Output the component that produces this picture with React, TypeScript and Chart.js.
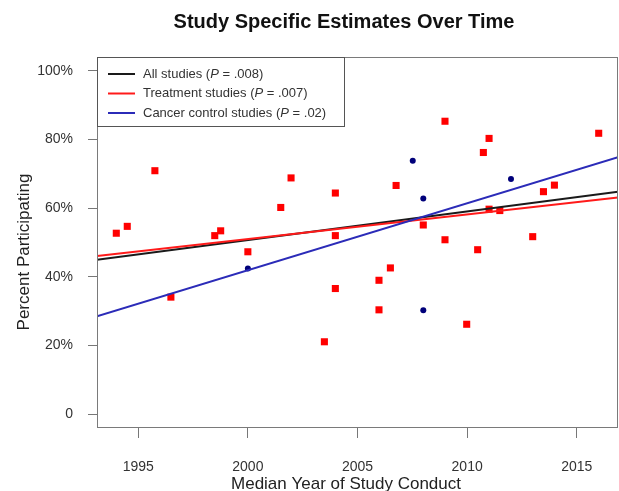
import React, { useEffect, useRef } from 'react';
import { Chart, registerables } from 'chart.js';

Chart.register(...registerables);

// ---- Data ----
const treatmentYears = [1994.0, 1994.5, 1995.76, 1996.49, 1998.49, 1998.76, 2000.0, 2001.5, 2001.97, 2003.49, 2003.99, 2003.99, 2003.99, 2005.98, 2005.98, 2006.5, 2006.76, 2008.0, 2008.99, 2008.99, 2009.98, 2010.48, 2010.74, 2011.0, 2011.0, 2011.49, 2012.99, 2013.48, 2013.98, 2016.0];
const treatmentPct = [52.7, 54.7, 70.9, 34.1, 52.0, 53.4, 47.3, 60.2, 68.8, 21.1, 64.4, 52.0, 36.6, 39.0, 30.4, 42.6, 66.6, 55.1, 85.3, 50.8, 26.2, 47.9, 76.2, 80.3, 59.7, 59.3, 51.7, 64.8, 66.7, 81.8];

const cancerYears = [2000.0, 2007.52, 2008.0, 2008.0, 2012.0];
const cancerPct = [42.4, 73.8, 62.8, 30.3, 68.5];

// Regression lines: values read at the left and right plot edges
const fitYears = [1993.12, 2016.88];
const allFitPct = [45.0, 64.8];
const treatmentFitPct = [46.1, 63.1];
const cancerFitPct = [28.5, 74.8];

const xTickYears = [1995, 2000, 2005, 2010, 2015];
const yTickValues = [0, 20, 40, 60, 80, 100];
const yTickLabels = ['0', '20%', '40%', '60%', '80%', '100%'];

const legendNames = ['All studies', 'Treatment studies', 'Cancer control studies'];
const legendPValues = ['.008', '.007', '.02'];

const chartTitle = 'Study Specific Estimates Over Time';
const xTitle = 'Median Year of Study Conduct';
const yTitle = 'Percent Participating';

const FONT = '"Liberation Sans", Arial, Helvetica, sans-serif';
const LINE_COLORS = ['#1a1a1a', '#ff1a1a', '#2b2bb8'];

const decorPlugin = {
  id: 'decor',
  afterDatasetsDraw(chart: any) {
    const { ctx, chartArea: a } = chart;
    ctx.save();
    // plot box
    ctx.strokeStyle = '#7a7a7a';
    ctx.lineWidth = 1;
    ctx.strokeRect(a.left + 0.5, a.top + 0.5, a.right - a.left - 1, a.bottom - a.top - 1);

    // x tick labels, positioned through the library's x scale
    const xs = chart.scales.x;
    ctx.fillStyle = '#333333';
    ctx.font = `14px ${FONT}`;
    ctx.textAlign = 'center';
    ctx.textBaseline = 'alphabetic';
    for (const v of xTickYears) {
      ctx.fillText(String(v), xs.getPixelForValue(v), 471);
    }

    // legend box
    const lx = a.left + 0.5, ly = a.top + 0.5, lw = 247, lh = 69;
    ctx.fillStyle = '#ffffff';
    ctx.fillRect(lx, ly, lw, lh);
    ctx.strokeStyle = '#555555';
    ctx.strokeRect(lx, ly, lw, lh);

    const rowY = [74, 93.5, 113];
    for (let i = 0; i < legendNames.length; i++) {
      const y = rowY[i];
      ctx.strokeStyle = LINE_COLORS[i];
      ctx.lineWidth = 2;
      ctx.beginPath();
      ctx.moveTo(108, y);
      ctx.lineTo(135, y);
      ctx.stroke();

      const parts: [string, boolean][] = [
        [legendNames[i] + ' (', false],
        ['P', true],
        [' = ' + legendPValues[i] + ')', false],
      ];
      let x = 143;
      ctx.fillStyle = '#333333';
      ctx.textBaseline = 'middle';
      ctx.textAlign = 'left';
      for (const [t, it] of parts) {
        ctx.font = `${it ? 'italic ' : ''}13px ${FONT}`;
        ctx.fillText(t, x, y);
        x += ctx.measureText(t).width;
      }
    }
    ctx.restore();
  },
  afterDraw(chart: any) {
    const { ctx } = chart;
    ctx.save();
    ctx.fillStyle = '#111111';
    ctx.textAlign = 'center';
    ctx.textBaseline = 'alphabetic';
    ctx.font = `bold 20px ${FONT}`;
    ctx.fillText(chartTitle, 344, 28);

    ctx.fillStyle = '#222222';
    ctx.font = `17px ${FONT}`;
    ctx.fillText(xTitle, 346, 489);

    ctx.translate(29, 252);
    ctx.rotate(-Math.PI / 2);
    ctx.fillText(yTitle, 0, 0);
    ctx.restore();
  },
};

export default function App() {
  const canvasRef = useRef<HTMLCanvasElement | null>(null);

  useEffect(() => {
    const canvas = canvasRef.current;
    if (!canvas) return;

    const line = (ys: number[], color: string) => ({
      type: 'line' as const,
      data: fitYears.map((x, i) => ({ x, y: ys[i] })),
      borderColor: color,
      borderWidth: 2,
      pointRadius: 0,
      showLine: true,
      fill: false,
      tension: 0,
    });

    const chart = new Chart(canvas, {
      type: 'scatter',
      data: {
        datasets: [
          line(cancerFitPct, LINE_COLORS[2]),
          line(treatmentFitPct, LINE_COLORS[1]),
          line(allFitPct, LINE_COLORS[0]),
          {
            data: cancerYears.map((x, i) => ({ x, y: cancerPct[i] })),
            pointStyle: 'circle',
            pointRadius: 3,
            backgroundColor: '#00007a',
            borderWidth: 0,
          } as any,
          {
            data: treatmentYears.map((x, i) => ({ x, y: treatmentPct[i] })),
            pointStyle: 'rect',
            pointRadius: 5,
            backgroundColor: '#ff0000',
            borderWidth: 0,
          } as any,
        ],
      },
      options: {
        responsive: false,
        animation: false,
        events: [],
        layout: { autoPadding: false, padding: { top: 57, right: 1, left: 0, bottom: 0 } },
        plugins: {
          legend: { display: false },
          title: { display: false },
          tooltip: { enabled: false },
        },
        scales: {
          x: {
            type: 'linear',
            min: 1993.12,
            max: 2016.88,
            afterBuildTicks: (s: any) => {
              s.ticks = xTickYears.map((v) => ({ value: v }));
            },
            afterFit: (s: any) => {
              s.height = 63;
              s.paddingLeft = 0;
              s.paddingRight = 0;
            },
            grid: {
              display: true,
              drawOnChartArea: false,
              drawTicks: true,
              tickLength: 10,
              color: '#777777',
              lineWidth: 1,
            },
            border: { display: false },
            ticks: { display: false, padding: 0 },
          },
          y: {
            type: 'linear',
            min: -4,
            max: 104,
            afterBuildTicks: (s: any) => {
              s.ticks = yTickValues.map((v) => ({ value: v }));
            },
            afterFit: (s: any) => {
              s.width = 97;
              s.paddingTop = 0;
              s.paddingBottom = 0;
            },
            grid: {
              display: true,
              drawOnChartArea: false,
              drawTicks: true,
              tickLength: 9,
              color: '#777777',
              lineWidth: 1,
            },
            border: { display: false },
            ticks: {
              autoSkip: false,
              padding: 15,
              color: '#333333',
              font: { family: FONT, size: 14 },
              callback: (v: any) => {
                const idx = yTickValues.indexOf(Number(v));
                return idx >= 0 ? yTickLabels[idx] : '';
              },
            },
          },
        },
      },
      plugins: [decorPlugin],
    } as any);

    return () => chart.destroy();
  }, []);

  return (
    <div style={{ position: 'fixed', left: 0, top: 0, width: 619, height: 491, background: '#ffffff' }}>
      <canvas ref={canvasRef} width={619} height={491} style={{ display: 'block' }} />
    </div>
  );
}
